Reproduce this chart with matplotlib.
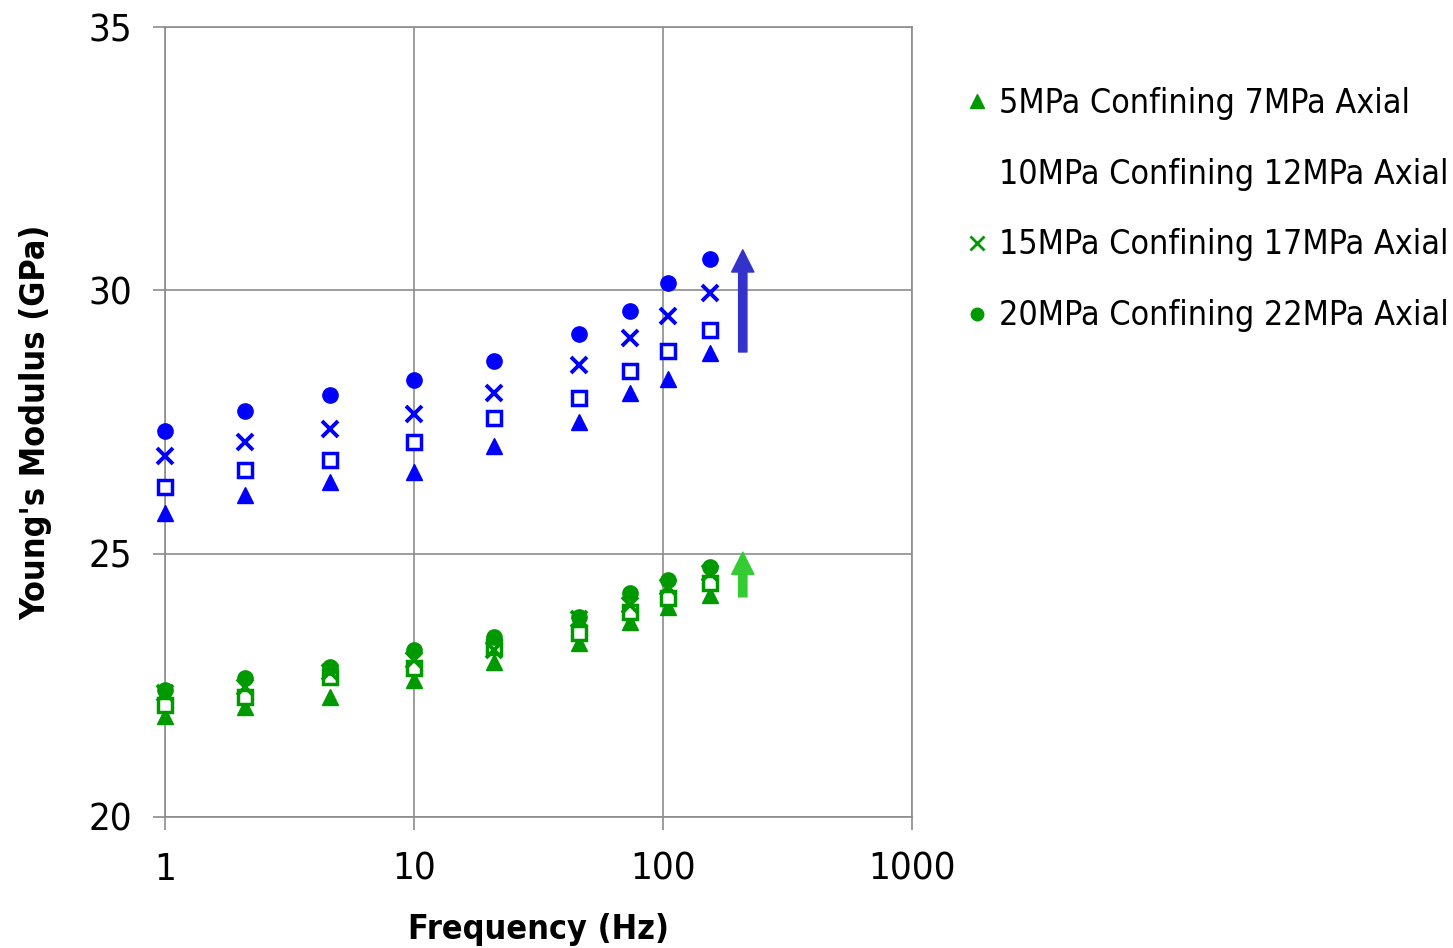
import matplotlib
matplotlib.use("Agg")
import matplotlib.pyplot as plt
from matplotlib.lines import Line2D

plt.rcParams['font.family'] = ['DejaVu Sans']
plt.rcParams['font.stretch'] = 'condensed'

# loading frequency (Hz)
freq = [1, 2.1, 4.6, 10, 21, 46, 74, 105, 154]

# Young's modulus (GPa), blue set
blue_5 = [25.77, 26.11, 26.36, 26.55, 27.04, 27.50, 28.05, 28.32, 28.81]
blue_10 = [26.27, 26.59, 26.78, 27.12, 27.58, 27.96, 28.47, 28.85, 29.25]
blue_15 = [26.85, 27.12, 27.37, 27.65, 28.05, 28.58, 29.10, 29.51, 29.95]
blue_20 = [27.33, 27.71, 28.01, 28.30, 28.66, 29.17, 29.61, 30.14, 30.60]

# Young's modulus (GPa), green set
green_5 = [21.92, 22.09, 22.28, 22.60, 22.94, 23.30, 23.70, 23.99, 24.22]
green_10 = [22.13, 22.28, 22.66, 22.83, 23.23, 23.49, 23.89, 24.16, 24.44]
green_15 = [22.35, 22.47, 22.75, 22.98, 23.17, 23.75, 24.03, 24.37, 24.63]
green_20 = [22.41, 22.64, 22.85, 23.17, 23.42, 23.80, 24.25, 24.50, 24.75]

labels = ['5MPa Confining 7MPa Axial',
          '10MPa Confining 12MPa Axial',
          '15MPa Confining 17MPa Axial',
          '20MPa Confining 22MPa Axial']

# trend arrows: x position, start, end
arrow_x = 209
blue_arrow = (28.83, 30.77)
green_arrow = (24.18, 25.03)

BLUE = '#0000ff'
GREEN = '#009900'

fig = plt.figure(figsize=(14.53, 9.48), dpi=100)
ax = fig.add_axes([0.1136, 0.1382, 0.5141, 0.8333])


def draw_set(ax, ys, color):
    s5, s10, s15, s20 = ys
    kw = dict(ls='none', clip_on=False, zorder=3)
    ax.plot(freq, s5, marker='^', ms=12, color=color, mec=color, **kw)
    ax.plot(freq, s10, marker='s', ms=10, mfc='white', mec=color, mew=2.5, **kw)
    ax.plot(freq, s15, marker='x', ms=11, mec=color, mew=2.8, **kw)
    ax.plot(freq, s20, marker='o', ms=11, color=color, mec=color, **kw)


draw_set(ax, (green_5, green_10, green_15, green_20), GREEN)
draw_set(ax, (blue_5, blue_10, blue_15, blue_20), BLUE)

for (y0, y1), col in [(blue_arrow, '#3333cc'), (green_arrow, '#33cc33')]:
    ax.annotate('', xy=(arrow_x, y1), xytext=(arrow_x, y0),
                arrowprops=dict(arrowstyle='simple,head_width=1.6,head_length=1.6,tail_width=0.6',
                                mutation_scale=10, color=col, shrinkA=0, shrinkB=0))

ax.set_xscale('log')
ax.set_xlim(1, 1000)
ax.set_ylim(20, 35)
ax.set_xticks([1, 10, 100, 1000])
ax.set_xticklabels(['1', '10', '100', '1000'])
ax.minorticks_off()
ax.set_yticks([20, 25, 30, 35])
ax.grid(True, color='#8c8c8c', lw=1.2)
for sp in ax.spines.values():
    sp.set_color('#8c8c8c')
    sp.set_linewidth(1.2)
ax.tick_params(axis='both', colors='#8c8c8c', labelcolor='black', labelsize=27.5,
               length=9, width=1.2)
ax.tick_params(axis='y', pad=15)
ax.tick_params(axis='x', pad=16)

ax.set_xlabel('Frequency (Hz)', fontsize=24.5, fontweight='bold', labelpad=18)
ax.set_ylabel("Young's Modulus (GPa)", fontsize=24.5, fontweight='bold', labelpad=26)

handles = [Line2D([], [], ls='none', marker='^', ms=10, color=GREEN),
           Line2D([], [], ls='none', marker='none'),
           Line2D([], [], ls='none', marker='x', ms=10, mec=GREEN, mew=2),
           Line2D([], [], ls='none', marker='o', ms=9, color=GREEN)]
fig.legend(handles, labels, loc='upper left', bbox_to_anchor=(0.656, 0.923),
           frameon=False, fontsize=24.4, handlelength=0.6, handletextpad=0.35,
           labelspacing=1.12, borderaxespad=0)

fig.savefig('out.png', dpi=100)
